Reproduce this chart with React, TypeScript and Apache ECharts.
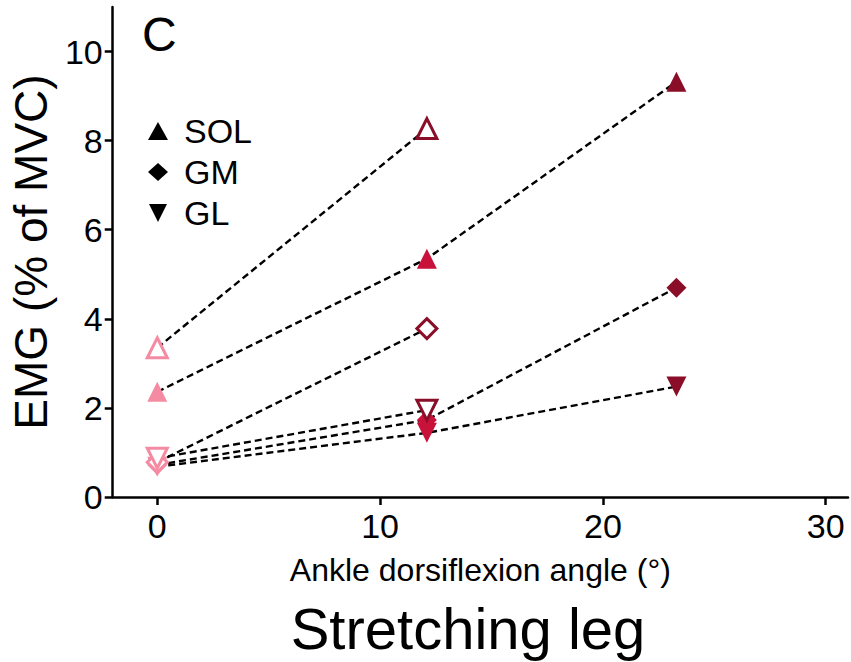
import React, { useEffect, useRef } from "react";
import * as echarts from "echarts";

const angles = [0, 12.1, 23.3];
const solOpen = [3.35, 8.27];
const solFilled = [2.36, 5.35, 9.32];
const gmOpen = [0.78, 3.78];
const gmFilled = [0.72, 1.73, 4.7];
const glOpen = [0.87, 1.95];
const glFilled = [0.68, 1.44, 2.48];

const xTicks = [0, 10, 20, 30];
const yTicks = [0, 2, 4, 6, 8, 10];
const muscles = ["SOL", "GM", "GL"];

const PINK = "#F48BA2";
const CRIMSON = "#C8123A";
const MAROON = "#8A0E28";
const filledColors = [PINK, CRIMSON, MAROON];
const openColors = [PINK, MAROON];

const FONT = "Liberation Sans, Arial, sans-serif";
const DOWN_TRI = "path://M0,0L20,0L10,20Z";

type Group = { name: string; vals: number[]; open: boolean; symbol: string };

const groups: Group[] = [
  { name: "GL filled", vals: glFilled, open: false, symbol: DOWN_TRI },
  { name: "GM filled", vals: gmFilled, open: false, symbol: "diamond" },
  { name: "SOL filled", vals: solFilled, open: false, symbol: "triangle" },
  { name: "GM open", vals: gmOpen, open: true, symbol: "diamond" },
  { name: "GL open", vals: glOpen, open: true, symbol: DOWN_TRI },
  { name: "SOL open", vals: solOpen, open: true, symbol: "triangle" },
];

export default function App() {
  const ref = useRef<HTMLDivElement>(null);
  useEffect(() => {
    if (!ref.current) return;
    const chart = echarts.init(ref.current, undefined, { renderer: "svg" });

    const lineSeries = groups.map((g) => ({
      type: "line",
      name: g.name + " line",
      data: g.vals.map((v, i) => [angles[i], v]),
      showSymbol: false,
      symbol: "none",
      z: 1,
      lineStyle: { color: "#000", width: 2.4, type: [7, 4] },
      silent: true,
    }));

    const markerSeries = groups.map((g, gi) => ({
      type: "scatter",
      name: g.name,
      symbol: g.symbol,
      symbolSize: 20,
      z: 3 + gi,
      data: g.vals.map((v, i) => {
        const c = g.open ? openColors[i] : filledColors[i];
        return {
          value: [angles[i], v],
          itemStyle: g.open
            ? { color: "#fff", borderColor: c, borderWidth: 3, opacity: 1 }
            : { color: c, borderWidth: 0, opacity: 1 },
        };
      }),
    }));

    const legendSeries = muscles.map((m) => ({
      type: "line",
      name: m,
      data: [],
      itemStyle: { color: "#000" },
      lineStyle: { color: "#000" },
    }));

    chart.setOption({
      animation: false,
      backgroundColor: "#fff",
      textStyle: { fontFamily: FONT },
      title: {
        text: "C",
        left: 137,
        top: 5,
        textStyle: { fontSize: 48, fontWeight: "normal", color: "#000", fontFamily: FONT },
      },
      legend: {
        orient: "vertical",
        left: 148,
        top: 114,
        padding: 0,
        itemGap: 7,
        itemWidth: 20,
        itemHeight: 18,
        textStyle: { fontSize: 34, color: "#000", fontFamily: FONT, padding: [0, 0, 0, 11] },
        data: [
          { name: "SOL", icon: "triangle", itemStyle: { color: "#000" } },
          { name: "GM", icon: "diamond", itemStyle: { color: "#000" } },
          { name: "GL", icon: DOWN_TRI, itemStyle: { color: "#000" } },
        ],
        selectedMode: false,
      },
      grid: { left: 110, top: 7, width: 738, height: 490, containLabel: false },
      xAxis: {
        type: "value",
        min: -2,
        max: 31,
        name: "Ankle dorsiflexion angle (°)",
        nameLocation: "middle",
        nameGap: 57,
        nameTextStyle: { fontSize: 32, color: "#000", fontFamily: FONT },
        axisLine: { show: true, onZero: false, lineStyle: { color: "#000", width: 2.5 } },
        axisTick: { show: true, length: 8, customValues: xTicks, lineStyle: { color: "#000", width: 2.5 } },
        axisLabel: { customValues: xTicks, fontSize: 34, color: "#000", margin: 12, fontFamily: FONT },
        splitLine: { show: false },
      },
      yAxis: {
        type: "value",
        min: 0,
        max: 11,
        name: "EMG (% of MVC)",
        nameLocation: "middle",
        nameRotate: 90,
        nameGap: 52,
        nameTextStyle: { fontSize: 46, color: "#000", fontFamily: FONT },
        axisLine: { show: true, onZero: false, lineStyle: { color: "#000", width: 2.5 } },
        axisTick: { show: true, length: 8, customValues: yTicks, lineStyle: { color: "#000", width: 2.5 } },
        axisLabel: { customValues: yTicks, fontSize: 34, color: "#000", margin: 10, fontFamily: FONT },
        splitLine: { show: false },
      },
      graphic: [
        {
          type: "text",
          x: 468,
          y: 628,
          style: {
            text: "Stretching leg",
            fontSize: 58,
            fill: "#000",
            fontFamily: FONT,
            align: "center",
            verticalAlign: "middle",
          },
        },
      ],
      series: [...lineSeries, ...markerSeries, ...legendSeries],
    });
    return () => chart.dispose();
  }, []);
  return (
    <div
      ref={ref}
      style={{ position: "fixed", left: 0, top: 0, width: 851, height: 662, background: "#fff" }}
    />
  );
}
